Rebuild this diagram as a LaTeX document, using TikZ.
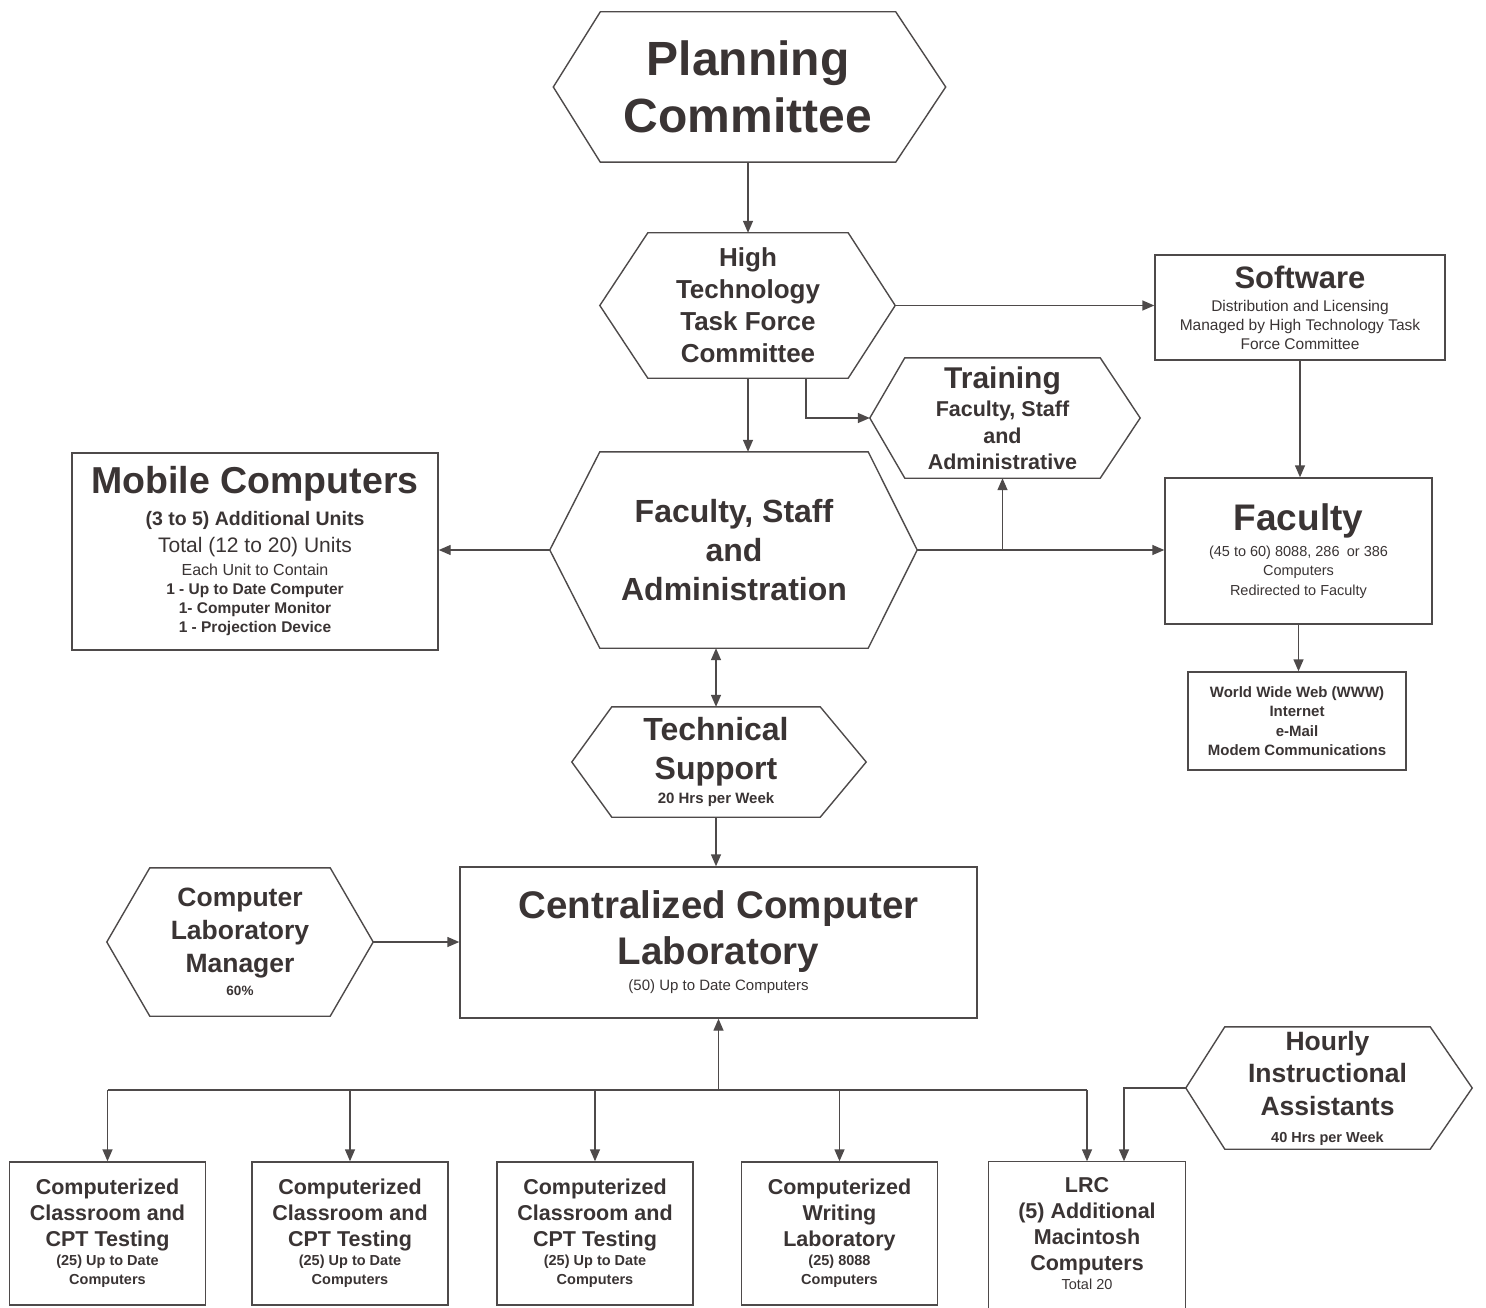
\documentclass[tikz,border=0pt]{standalone}
\usepackage{fontspec}
\setmainfont{Liberation Sans}
\usetikzlibrary{arrows.meta,calc}
\definecolor{ink}{HTML}{3A3434}
\definecolor{rule}{HTML}{4E4A4A}
% font helpers: bold / regular at a given size
\newcommand\fb[1]{\fontsize{#1}{#1}\selectfont\bfseries}
\newcommand\fr[1]{\fontsize{#1}{#1}\selectfont\mdseries}
% hexagon outline around a node: flat top/bottom, pointed left/right
\newcommand\hexframe[3]{%
  \coordinate (#1-l) at ([xshift=-#2pt]#1.west);
  \coordinate (#1-r) at ([xshift=#3pt]#1.east);
  \draw[outline] (#1.north west) -- (#1.north east) -- (#1-r) -- (#1.south east)
     -- (#1.south west) -- (#1-l) -- cycle;}
\begin{document}
\begin{tikzpicture}[x=1pt,y=-1pt,
  lead/.style={font=\fontsize{10}{#1}\selectfont},
  txt/.style={inner sep=0pt, align=center, text=ink},
  box/.style={txt, draw=rule, line width=1.4pt},
  outline/.style={draw=rule, line width=1.4pt, line join=miter},
  conn/.style={draw=rule, line width=1.4pt, -{Triangle[length=12pt,width=10pt]}},
  biconn/.style={draw=rule, line width=1.4pt, {Triangle[length=12pt,width=10pt]}-{Triangle[length=12pt,width=10pt]}},
  bottombox/.style={box, minimum width=196pt, minimum height=143pt, lead=26},
]
\useasboundingbox (0,0) rectangle (1486,1308);
\clip (0,0) rectangle (1486,1308);
\fill[white] (0,0) rectangle (1486,1308);

% ---------- hexagonal units ----------
\node[txt, lead=57, minimum width=295pt, minimum height=150pt] (plan) at (748,87)
  {\fb{48}Planning\\ \fb{48}Committee};
\hexframe{plan}{47}{50}

\node[txt, lead=32, minimum width=200pt, minimum height=145pt] (ht) at (748,305.5)
  {\fb{26}High\\ \fb{26}Technology\\ \fb{26}Task Force\\ \fb{26}Committee};
\hexframe{ht}{48}{47}

\node[txt, lead=28, minimum width=195pt, minimum height=120pt] (tr) at (1002.5,418)
  {\fb{30}Training\\[0pt] \fb{21.5}Faculty, Staff\\[-1pt] \fb{21.5}and\\[-2pt] \fb{21.5}Administrative};
\hexframe{tr}{35}{40}

\node[txt, lead=39, minimum width=268pt, minimum height=196pt] (fsa) at (734,550)
  {\fb{32}Faculty, Staff\\ \fb{32}and\\ \fb{32}Administration};
\hexframe{fsa}{50}{49}

\node[txt, lead=39, minimum width=208pt, minimum height=110pt] (ts) at (716,762)
  {\fb{32}Technical\\ \fb{32}Support\\[-15pt] \fb{15}20 Hrs per Week};
\hexframe{ts}{40}{46}

\node[txt, lead=33, minimum width=180pt, minimum height=148pt] (clm) at (240,942)
  {\fb{26.5}Computer\\ \fb{26.5}Laboratory\\ \fb{26.5}Manager\\[-10pt] \fb{13.5}60\%};
\hexframe{clm}{43}{43}

\node[txt, lead=32.5, minimum width=205pt, minimum height=122pt] (hr) at (1327.5,1088)
  {\fb{26.5}Hourly\\ \fb{26.5}Instructional\\ \fb{26.5}Assistants\\[-5.5pt] \fb{14.5}40 Hrs per Week};
\hexframe{hr}{39}{42}

% ---------- rectangular units ----------
\node[box, lead=23, minimum width=290pt, minimum height=105pt] (sw) at (1300,307.5)
  {\fb{31}Software\\[0pt] \fr{15.5}Distribution and Licensing\\[-4pt]
   \fr{15.5}Managed by High Technology Task\\[-4pt] \fr{15.5}Force Committee};

\node[box, lead=24, minimum width=267pt, minimum height=146pt] (fac) at (1298.5,551)
  {\fb{37}Faculty\\[1.5pt] \fr{14.5}(45 to 60) 8088, 286\enspace or 386\\[-4.5pt]
   \fr{14.5}Computers\\[-4.5pt] \fr{14.5}Redirected to Faculty};

\node[box, lead=19.5, minimum width=218pt, minimum height=98pt] (www) at (1297,721)
  {\fb{15}World Wide Web (WWW)\\ \fb{15}Internet\\ \fb{15}e-Mail\\ \fb{15}Modem Communications};

\node[box, lead=30, minimum width=366pt, minimum height=197pt] (mob) at (255,551.5)
  {\fb{37.5}Mobile Computers\\[2pt] \fb{19.5}(3 to 5) Additional Units\\[-3pt]
   \fr{21}Total (12 to 20) Units\\[-7pt] \fr{16}Each Unit to Contain\\[-11pt]
   \fb{15.5}1 - Up to Date Computer\\[-11pt] \fb{15.5}1- Computer Monitor\\[-11pt]
   \fb{15.5}1 - Projection Device};

\node[box, lead=46, minimum width=517pt, minimum height=151pt] (ccl) at (718.5,942.5)
  {\fb{38.5}Centralized Computer\\ \fb{38.5}Laboratory\\[-20pt] \fr{15}(50) Up to Date Computers};

\node[bottombox] (b1) at (107.5,1233.5)
  {\fb{21.5}Computerized\\ \fb{21.5}Classroom and\\ \fb{21.5}CPT Testing\\[-7pt]
   \fb{14.5}(25) Up to Date\\[-7pt] \fb{14.5}Computers};
\node[bottombox] (b2) at (350,1233.5)
  {\fb{21.5}Computerized\\ \fb{21.5}Classroom and\\ \fb{21.5}CPT Testing\\[-7pt]
   \fb{14.5}(25) Up to Date\\[-7pt] \fb{14.5}Computers};
\node[bottombox] (b3) at (595,1233.5)
  {\fb{21.5}Computerized\\ \fb{21.5}Classroom and\\ \fb{21.5}CPT Testing\\[-7pt]
   \fb{14.5}(25) Up to Date\\[-7pt] \fb{14.5}Computers};
\node[bottombox] (b4) at (839.5,1233.5)
  {\fb{21.5}Computerized\\ \fb{21.5}Writing\\ \fb{21.5}Laboratory\\[-7pt]
   \fb{14.5}(25) 8088\\[-7pt] \fb{14.5}Computers};
\node[bottombox, draw=none] (b5) at (1087,1233.5)
  {\fb{21.5}LRC\\ \fb{21.5}(5) Additional\\ \fb{21.5}Macintosh\\ \fb{21.5}Computers\\[-7pt]
   \fr{14.5}Total 20};
% the LRC box runs on below the lower edge
\draw[outline] (b5.north west) rectangle ([yshift=-40pt]b5.south east);

% ---------- connectors ----------
\draw[conn] (plan.south) -- (plan.south |- ht.north);
\draw[conn] (ht-r) -- (ht-r -| sw.west);
\draw[conn] (sw.south) -- (sw.south |- fac.north);
\draw[conn] (fac.south) -- (fac.south |- www.north);
\draw[conn] (ht.south) -- (ht.south |- fsa.north);
\draw[conn] ([xshift=58pt]ht.south) |- (tr-l);
\draw[conn] (fsa-l) -- (fsa-l -| mob.east);
\draw[conn] (fsa-r) -- (fsa-r -| fac.west);
\draw[conn] (tr.south |- fsa-r) -- (tr.south);
\draw[biconn] (ts.north |- fsa.south) -- (ts.north);
\draw[conn] (ts.south) -- (ts.south |- ccl.north);
\draw[conn] (clm-r) -- (clm-r -| ccl.west);

\coordinate (busy) at (0,1090);
\coordinate (bus) at (ccl.south |- busy);
\draw[conn] (bus) -- (ccl.south);
\draw[draw=rule, line width=1.4pt] (b1.north |- bus) -- (b5.north |- bus);
\foreach \b in {b1,b2,b3,b4,b5}
  \draw[conn] (\b.north |- bus) -- (\b.north);
\draw[conn] (hr-l) -| ([xshift=37pt]b5.north);
\end{tikzpicture}
\end{document}
